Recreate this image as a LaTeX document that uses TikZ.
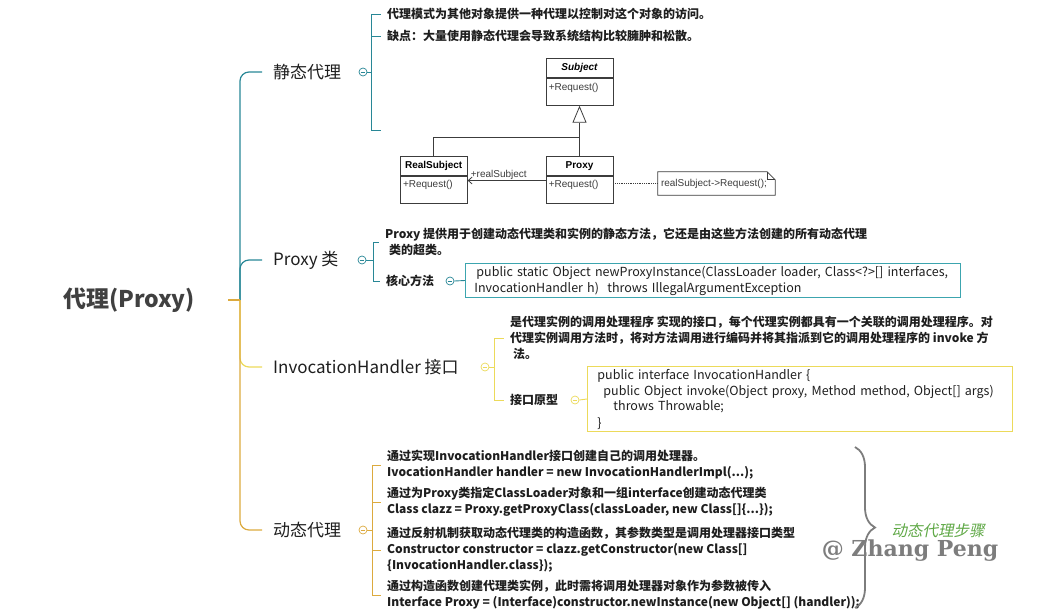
\documentclass[tikz,border=0pt]{standalone}
\usepackage{fontspec}
\setmainfont{Noto Sans CJK SC}
\newfontfamily\umlfont{Liberation Sans}
\newfontfamily\markfont{DejaVu Serif}
\newfontfamily\stepsfont{Noto Sans CJK SC}[FakeSlant=0.2]
\usetikzlibrary{positioning,arrows.meta,decorations.pathreplacing}
\definecolor{tealline}{RGB}{40,135,150}
\definecolor{tealbox}{RGB}{60,165,175}
\definecolor{yellowline}{RGB}{236,218,90}
\definecolor{orangeline}{RGB}{220,170,62}
\definecolor{txt}{RGB}{30,30,30}
\definecolor{roottxt}{RGB}{64,64,64}
\definecolor{umlline}{RGB}{60,60,60}
\definecolor{stepgreen}{RGB}{95,168,70}
\definecolor{markgray}{RGB}{125,125,125}

\begin{document}
\begin{tikzpicture}[x=1pt,y=-1pt,
  root/.style={font={\fontsize{23}{26}\selectfont\bfseries}, text=roottxt, minimum width=198pt, inner sep=0pt},
  branch/.style={font={\fontsize{17}{20}\selectfont}, text=txt, anchor=west, inner xsep=6pt},
  leaf/.style={font={\fontsize{12}{16}\selectfont\bfseries}, text=txt, anchor=west, align=left, inner xsep=6pt, inner ysep=1pt},
  fold/.style={circle, draw=#1, line width=0.7pt, minimum size=8pt, inner sep=0pt, fill=white,
    path picture={\draw[#1, line width=0.6pt] ([xshift=-2.3pt]path picture bounding box.center) -- ([xshift=2.3pt]path picture bounding box.center);}},
  codebox/.style={draw=#1, line width=0.9pt, font={\fontsize{12.5}{16}\selectfont}, text=txt, anchor=west, align=left, inner ysep=2pt},
  trunk/.style={draw=#1, line width=1.2pt, rounded corners=9pt, shorten >=5pt},
  bracket/.style={draw=#1, line width=0.9pt},
  umltitle/.style={draw=umlline, line width=0.8pt, minimum width=67pt, minimum height=19pt, inner sep=0pt, font={\umlfont\fontsize{10}{12}\selectfont\bfseries}},
  umlbody/.style={draw=umlline, line width=0.8pt, minimum width=67pt, minimum height=27pt, inner sep=0pt},
  umltxt/.style={font={\umlfont\fontsize{10}{12}\selectfont}, text=umlline, inner sep=2pt},
  reqtxt/.style={umltxt, anchor=north west, inner xsep=3pt, inner ysep=5pt},
  umledge/.style={draw=umlline, line width=0.8pt},
]
\useasboundingbox (0,0) rectangle (1061,611);

\node[root] (root) at (129,300) {代理(Proxy)};
\coordinate (hub) at (240,300);
\node[branch] (stat) at (267,72) {静态代理};
\node[branch] (prx) at (267,260) {Proxy 类};
\node[branch] (ih) at (267,367) {InvocationHandler 接口};
\node[branch] (dyn) at (267,530) {动态代理};
\draw[trunk=tealline] (hub) |- (stat.west);
\draw[trunk=tealline] (hub) |- (prx.west);
\draw[trunk=yellowline] (hub) |- (ih.west);
\draw[trunk=orangeline] (hub) |- (dyn.west);
\draw[bracket=orangeline, line width=1.2pt] (root.east) -- (hub);

\node[fold=tealline] (fstat) at (363,72) {};
\node[fold=tealline] (fprx) at (362,260) {};
\node[fold=yellowline] (fih) at (485,367) {};
\node[fold=orangeline] (fdyn) at (363,530) {};

\node[leaf] (s1) at (381,14) {代理模式为其他对象提供一种代理以控制对这个对象的访问。};
\node[leaf] (s2) at (381,36) {缺点：大量使用静态代理会导致系统结构比较臃肿和松散。};
\coordinate (uml) at (381,130);
\foreach \n in {s1.west,s2.west,uml}
  \draw[bracket=tealline] (fstat.east) -- ++(4,0) |- (\n);

\node[umltitle, font={\umlfont\fontsize{10}{12}\selectfont\bfseries\itshape}] (subT) at (579.5,68) {Subject};
\node[umlbody, below=0pt of subT, label={[reqtxt]north west:+Request()}] (subB) {};
\node[umltitle, below=50pt of subB] (proxyT) {Proxy};
\node[umlbody, below=0pt of proxyT, label={[reqtxt]north west:+Request()}] (proxyB) {};
\node[umltitle, left=78pt of proxyT] (realT) {RealSubject};
\node[umlbody, below=0pt of realT, label={[reqtxt]north west:+Request()}] (realB) {};
\node[umltxt, text width=111pt, align=left, inner xsep=3pt, minimum height=23pt] (note) at (716.5,183.5) {realSubject->Request();};
\draw[umledge, -{Triangle[open, length=17pt, width=14pt]}] (proxyT.north) -- (subB.south);
\draw[umledge] (realT.north) |- ([yshift=18pt]proxyT.north);
\draw[umledge, -{Straight Barb[length=4pt, width=7pt]}] ([yshift=-5pt]proxyB.north west) -- node[umltxt, pos=0.6, above, inner sep=1pt] {+realSubject} ([yshift=-5pt]realB.north east);
\draw[umledge, densely dotted] (note.west -| proxyB.east) -- (note.west);
\draw[umledge] (note.north west) -- ([xshift=-8pt]note.north east) -- ([yshift=-8pt]note.north east) -- (note.south east) -- (note.south west) -- cycle;
\draw[umledge] ([xshift=-8pt]note.north east) |- ([yshift=-8pt]note.north east);

\node[leaf] (p1) at (379,242) {Proxy 提供用于创建动态代理类和实例的静态方法，它还是由这些方法创建的所有动态代理\\\hspace{4pt}类的超类。};
\node[leaf] (p2) at (380,281) {核心方法};
\foreach \n in {p1,p2}
  \draw[bracket=tealline] (fprx.east) -- ++(7,0) |- (\n.west);
\node[fold=tealline] (fcore) at (450,281) {};
\node[codebox=tealbox, text width=477pt, inner xsep=9pt] (pbox) at (465,280.5) {\hspace{2pt}public static Object newProxyInstance(ClassLoader loader, Class<?>[] interfaces,\\InvocationHandler h)\ \ throws IllegalArgumentException};
\draw[bracket=tealline] (fcore.east) -- (pbox.west);

\node[leaf] (i1) at (504,338) {是代理实例的调用处理程序 实现的接口，每个代理实例都具有一个关联的调用处理程序。对\\代理实例调用方法时，将对方法调用进行编码并将其指派到它的调用处理程序的 invoke 方\\\hspace{3pt}法。};
\node[leaf] (i2) at (504,400) {接口原型};
\foreach \n in {i1,i2}
  \draw[bracket=yellowline] (fih.east) -- ++(5,0) |- (\n.west);
\node[fold=yellowline] (fproto) at (575,400) {};
\node[codebox=yellowline, text width=405pt, inner xsep=10pt] (ibox) at (587,399) {public interface InvocationHandler \{\\\hspace{6pt}public Object invoke(Object proxy, Method method, Object[] args)\\\hspace{16pt}throws Throwable;\\\}};
\draw[bracket=yellowline] (fproto.east) -- (ibox.west);

\node[leaf] (d1) at (381,465) {通过实现InvocationHandler接口创建自己的调用处理器。\\IvocationHandler handler = new InvocationHandlerImpl(...);};
\node[leaf] (d2) at (381,502) {通过为Proxy类指定ClassLoader对象和一组interface创建动态代理类\\Class clazz = Proxy.getProxyClass(classLoader, new Class[]\{...\});};
\node[leaf] (d3) at (381,550) {通过反射机制获取动态代理类的构造函数，其参数类型是调用处理器接口类型\\Constructor constructor = clazz.getConstructor(new Class[]\\\{InvocationHandler.class\});};
\node[leaf] (d4) at (381,595) {通过构造函数创建代理类实例，此时需将调用处理器对象作为参数被传入\\Interface Proxy = (Interface)constructor.newInstance(new Object[] (handler));};
\foreach \n in {d1,d2,d3,d4}
  \draw[bracket=orangeline] (fdyn.east) -- ++(5,0) |- (\n.west);

\coordinate (bracetop) at (855,447);
\coordinate (bracebot) at (855,608);
\draw[markgray, line width=1.8pt, decorate, decoration={brace, amplitude=20pt}] (bracetop) -- (bracebot);
\node[font={\stepsfont\fontsize{15.5}{18}\selectfont}, text=stepgreen] (steps) at (938,531) {动态代理步骤};
\node[font={\markfont\fontsize{22}{24}\selectfont\bfseries}, text=markgray] (mark) at (910,551) {@ Zhang Peng};
\end{tikzpicture}
\end{document}
